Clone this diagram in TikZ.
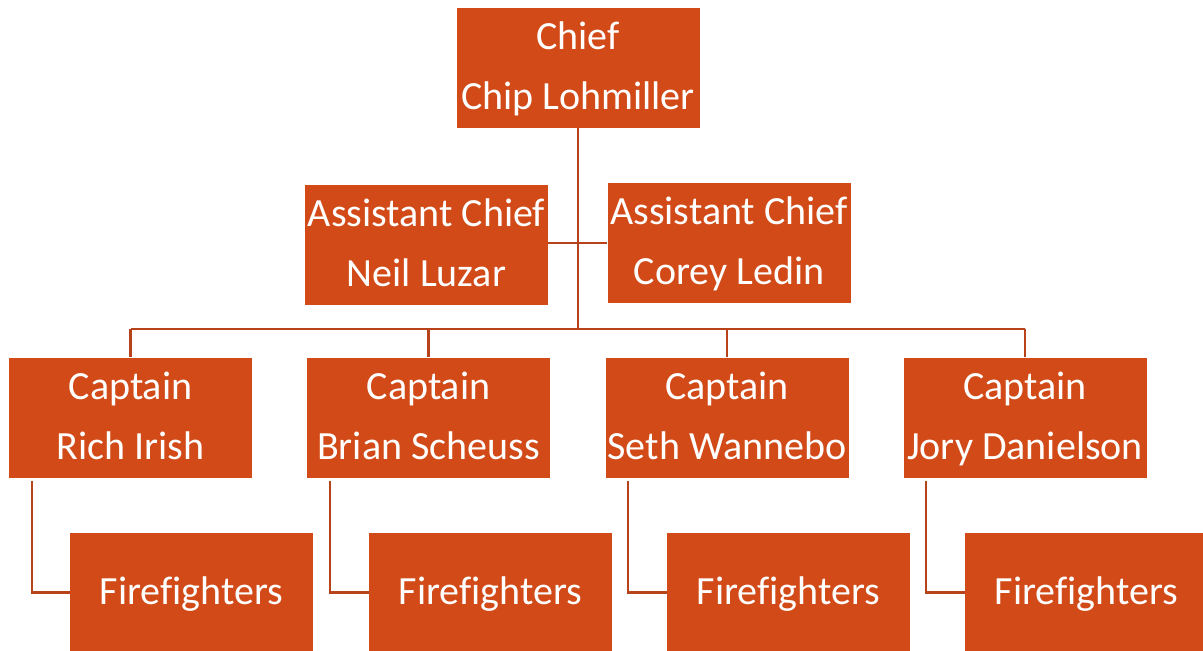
\documentclass[tikz,border=0pt]{standalone}
\usepackage{fontspec}
\setmainfont[Ligatures=NoCommon]{Carlito}
\usetikzlibrary{positioning,calc}
\definecolor{boxorange}{RGB}{210,74,23}
\definecolor{linebrown}{RGB}{184,66,26}

\begin{document}
\begin{tikzpicture}[x=0.5pt, y=-0.5pt,
    post/.style={rectangle, fill=boxorange, text=white, inner sep=0pt,
        minimum width=121.5pt, minimum height=59.5pt, align=center,
        font=\fontsize{20}{30}\selectfont},
    link/.style={draw=linebrown, line width=1.1pt}]
    \useasboundingbox (0,0) rectangle (1203,650);

    % Chief
    \node[post] (chief) at (578,67.5) {\strut Chief\\\strut Chip Lohmiller};

    % Assistant chiefs
    \node[post] (neil) at (426.5,244.5) {\strut Assistant Chief\\\strut Neil Luzar};
    \node[post] (corey) at (729,242.5) {\strut Assistant Chief\\\strut Corey Ledin};

    % Captains
    \node[post] (capA) at (130.5,417.5) {\strut Captain\\\strut Rich Irish};
    \node[post] (capB) at (428.5,417.5) {\strut Captain\\\strut Brian Scheuss};
    \node[post] (capC) at (727,417.5) {\strut Captain\\\strut Seth Wannebo};
    \node[post] (capD) at (1025,417.5) {\strut Captain\\\strut Jory Danielson};

    % Firefighters
    \node[post] (ffA) at (191.5,592.5) {\strut Firefighters};
    \node[post] (ffB) at (490.5,592.5) {\strut Firefighters};
    \node[post] (ffC) at (788.5,592.5) {\strut Firefighters};
    \node[post] (ffD) at (1086.5,592.5) {\strut Firefighters};

    % Lines
    \coordinate (bus) at (578,329);
    \draw[link] (chief.south) -- (bus);
    \draw[link] (neil.east |- 0,243) -- (corey.west |- 0,243);
    \draw[link] (capA.north |- bus) -- (capD.north |- bus);
    \foreach \c in {capA,capB,capC,capD}
        \draw[link] (\c.north |- bus) -- (\c.north);
    \foreach \c/\f in {capA/ffA,capB/ffB,capC/ffC,capD/ffD}
        \draw[link] ([xshift=11.5pt,yshift=-1.5pt]\c.south west) |- (\f.west);
\end{tikzpicture}
\end{document}
